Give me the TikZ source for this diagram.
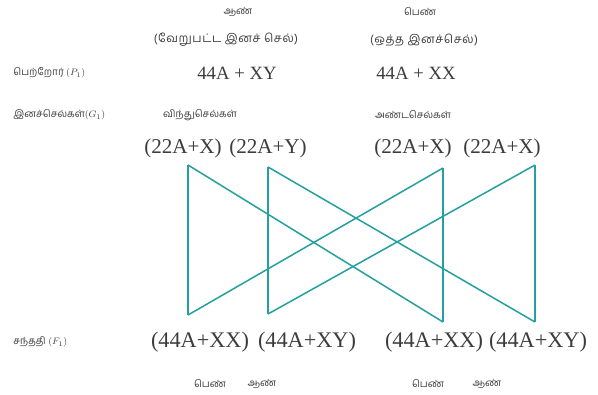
\documentclass[tikz,border=0pt]{standalone}
\usepackage{fontspec}
\setmainfont{Liberation Serif}
\newfontfamily\tamilfont[Script=Tamil]{Hind Madurai}
\newfontfamily\tamilwide[Script=Tamil, LetterSpace=5]{Hind Madurai}
\usetikzlibrary{positioning}
\definecolor{linkteal}{RGB}{38,160,158}
\definecolor{inkgrey}{RGB}{60,60,60}

\begin{document}
\begin{tikzpicture}[
    x=0.03cm, y=-0.03cm,
    tamil/.style={font=\tamilfont\fontsize{8.5}{10}\selectfont, text=inkgrey, inner sep=1pt},
    tamilnote/.style={font=\tamilwide\fontsize{10}{12}\selectfont, text=inkgrey, inner sep=1pt},
    formula/.style={font=\fontsize{16}{18}\selectfont, text=inkgrey, inner sep=1pt},
    gamete/.style={formula, font=\fontsize{18}{20}\selectfont},
    child/.style={formula, font=\fontsize{19}{22}\selectfont},
    cross/.style={draw=linkteal, line width=1.3pt}
]
    \useasboundingbox (0,0) rectangle (598,394);

    % Parents
    \node[tamil] (male) at (238,12) {ஆண்};
    \node[tamilnote] (malenote) at (226,40) {(வேறுபட்ட இனச் செல்)};
    \node[tamil] (female) at (420,12) {பெண்};
    \node[tamilnote] (femalenote) at (424,40) {(ஒத்த இனச்செல்)};
    \node[tamil, anchor=west] (parents) at (12,73) {பெற்றோர் $(P_1)$};
    \node[formula] (pmale) at (237,73) {44A + XY};
    \node[formula] (pfemale) at (416,73) {44A + XX};

    % Gametes
    \node[tamil, anchor=west] (gametes) at (12,115) {இனச்செல்கள்$(G_1)$};
    \node[tamil] (sperm) at (200,115) {விந்துசெல்கள்};
    \node[tamil] (eggs) at (413,115) {அண்டசெல்கள்};
    \node[gamete] (ga) at (183,148) {(22A+X)};
    \node[gamete] (gb) at (268,148) {(22A+Y)};
    \node[gamete] (gc) at (413,148) {(22A+X)};
    \node[gamete] (gd) at (502,148) {(22A+X)};

    % Offspring
    \node[tamil, anchor=west] (offspring) at (12,342) {சந்ததி $(F_1)$};
    \node[child] (fa) at (200,342) {(44A+XX)};
    \node[child] (fb) at (307,342) {(44A+XY)};
    \node[child] (fc) at (434,342) {(44A+XX)};
    \node[child] (fd) at (538,342) {(44A+XY)};
    \node[tamil] (sexa) at (210,384) {பெண்};
    \node[tamil] (sexb) at (262,384) {ஆண்};
    \node[tamil] (sexc) at (428,384) {பெண்};
    \node[tamil] (sexd) at (487,384) {ஆண்};

    % Crossing lines
    \coordinate (ta) at (188,165);
    \coordinate (tb) at (268,167);
    \coordinate (tc) at (443,168);
    \coordinate (td) at (535,165);
    \coordinate (ba) at (188,315);
    \coordinate (bb) at (268,314);
    \coordinate (bc) at (443,322);
    \coordinate (bd) at (535,322);
    \draw[cross] (ta) -- (ba);
    \draw[cross] (ta) -- (bc);
    \draw[cross] (tb) -- (bb);
    \draw[cross] (tb) -- (bd);
    \draw[cross] (tc) -- (bc);
    \draw[cross] (tc) -- (ba);
    \draw[cross] (td) -- (bd);
    \draw[cross] (td) -- (bb);
\end{tikzpicture}
\end{document}
